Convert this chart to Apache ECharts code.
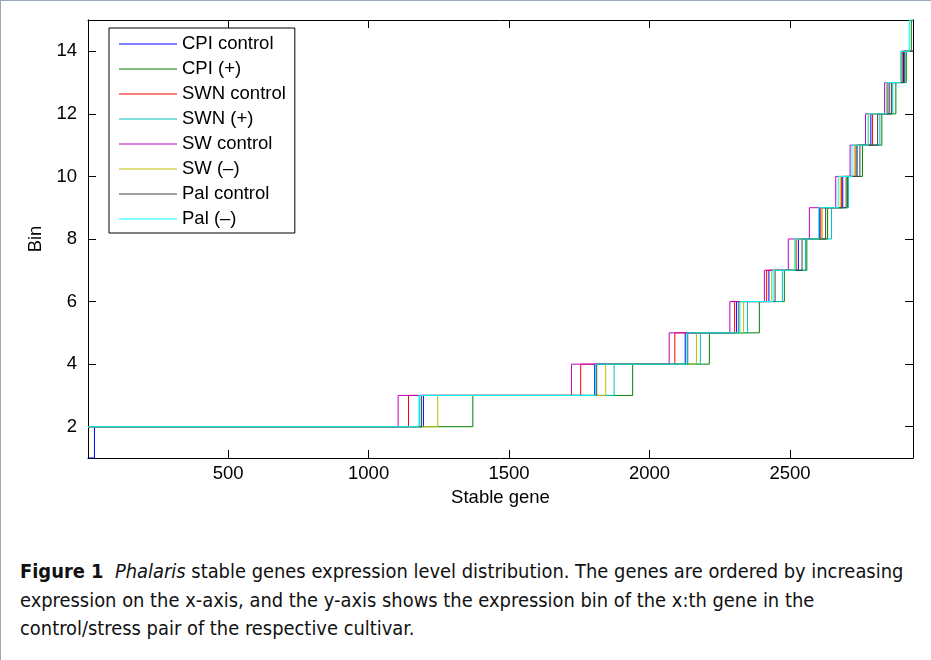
<!DOCTYPE html>
<html>
<head>
<meta charset="utf-8">
<script src="https://cdn.jsdelivr.net/npm/echarts@6/dist/echarts.min.js"></script>
<style>
  html, body { margin: 0; padding: 0; background: #fff; }
  #wrap { position: relative; width: 931px; height: 660px; overflow: hidden; }
  #frame { position: absolute; left: 0; top: 0; width: 931px; height: 660px; box-sizing: border-box;
    border-left: 1px solid #9aa6ba; border-top: 1px solid #9aa6ba; }
  #chart { position: absolute; left: 0; top: 0; width: 931px; height: 540px; }
  #caption { position: absolute; left: 20px; top: 558px; width: 910px; white-space: nowrap;
    font-family: 'DejaVu Sans Condensed', 'DejaVu Sans', sans-serif; font-size: 19.9px; line-height: 28.5px; color: #111; }
</style>
</head>
<body>
<div id="wrap">
  <div id="chart"></div>
  <div id="caption"><b>Figure 1</b>&nbsp; <i>Phalaris</i> stable genes expression level distribution. The genes are ordered by increasing<br>expression on the x-axis, and the y-axis shows the expression bin of the x:th gene in the<br>control/stress pair of the respective cultivar.</div>
  <div id="frame"></div>
</div>
<script>
// gene index range and axis ticks
const xMin = 1
const xMax = 2938
const xTicks = [500, 1000, 1500, 2000, 2500]
const yTicks = [2, 4, 6, 8, 10, 12, 14]

const seriesNames = ['CPI control', 'CPI (+)', 'SWN control', 'SWN (+)', 'SW control', 'SW (–)', 'Pal control', 'Pal (–)']
const seriesColors = ['#0000ff', '#008000', '#ff0000', '#00bfbf', '#bf00bf', '#bfbf00', '#404040', '#00ffff']

// bin each series starts in
const startBins = [1, 2, 2, 2, 2, 2, 2, 2]

// gene index where each series moves up one bin
const cpiControlSteps = [24, 1195, 1805, 2127, 2310, 2425, 2530, 2606, 2688, 2739, 2788, 2853, 2904]
const cpiPlusSteps = [1371, 1940, 2213, 2391, 2480, 2560, 2634, 2705, 2758, 2827, 2877, 2914, 2932]
const swnControlSteps = [1142, 1755, 2090, 2303, 2417, 2522, 2610, 2684, 2735, 2794, 2846, 2900]
const swnPlusSteps = [1182, 1874, 2181, 2349, 2473, 2555, 2648, 2708, 2740, 2820, 2866, 2910]
const swControlSteps = [1105, 1722, 2070, 2286, 2409, 2494, 2569, 2663, 2714, 2769, 2837, 2896]
const swMinusSteps = [1246, 1844, 2167, 2335, 2435, 2519, 2615, 2679, 2729, 2780, 2850, 2898]
const palControlSteps = [1188, 1812, 2136, 2318, 2447, 2543, 2627, 2700, 2749, 2812, 2861, 2907]
const palMinusSteps = [1179, 1808, 2133, 2322, 2440, 2517, 2602, 2672, 2721, 2778, 2843, 2894, 2925]

const allSteps = [cpiControlSteps, cpiPlusSteps, swnControlSteps, swnPlusSteps,
  swControlSteps, swMinusSteps, palControlSteps, palMinusSteps]

function buildPoints(start, steps) {
  const pts = [[xMin, start]]
  steps.forEach((x, i) => pts.push([x, start + i + 1]))
  pts.push([xMax, start + steps.length])
  return pts
}

const font = "'Liberation Sans', Arial, sans-serif"
const fs = 18.5
const chart = echarts.init(document.getElementById('chart'))

const boxAxis = {
  axisLine: { show: true, lineStyle: { color: '#000', width: 1 } },
  axisTick: { show: true, inside: true, length: 8, lineStyle: { color: '#000' } },
  axisLabel: { show: false },
  splitLine: { show: false },
}

chart.setOption({
  animation: false,
  textStyle: { fontFamily: font },
  grid: { left: 88, right: 18, top: 20, bottom: 82 },
  legend: {
    orient: 'vertical',
    left: 109,
    top: 28,
    padding: [6, 9, 4, 10],
    borderColor: '#000',
    borderWidth: 1,
    backgroundColor: '#fff',
    itemWidth: 58,
    itemHeight: 1,
    itemGap: 5,
    icon: 'rect',
    textStyle: { fontFamily: font, fontSize: fs, color: '#000', lineHeight: 20 },
    data: seriesNames,
  },
  xAxis: [
    {
      type: 'value',
      min: xMin,
      max: xMax,
      name: 'Stable gene',
      nameLocation: 'middle',
      nameGap: 30,
      nameTextStyle: { fontFamily: font, fontSize: fs, color: '#000' },
      axisLine: { show: true, lineStyle: { color: '#000', width: 1 } },
      axisTick: { show: true, inside: true, length: 8, customValues: xTicks, lineStyle: { color: '#000' } },
      axisLabel: { customValues: xTicks, formatter: v => String(v), fontFamily: font, fontSize: fs, color: '#000', margin: 6 },
      splitLine: { show: false },
    },
    Object.assign({}, boxAxis, { type: 'value', position: 'top', min: xMin, max: xMax,
      axisTick: Object.assign({}, boxAxis.axisTick, { customValues: xTicks }) }),
  ],
  yAxis: [
    {
      type: 'value',
      min: 1,
      max: 15,
      name: 'Bin',
      nameLocation: 'middle',
      nameRotate: 90,
      nameGap: 36,
      nameTextStyle: { fontFamily: font, fontSize: fs, color: '#000' },
      axisLine: { show: true, lineStyle: { color: '#000', width: 1 } },
      axisTick: { show: true, inside: true, length: 8, customValues: yTicks, lineStyle: { color: '#000' } },
      axisLabel: { customValues: yTicks, formatter: v => String(v), fontFamily: font, fontSize: fs, color: '#000', margin: 11 },
      splitLine: { show: false },
    },
    Object.assign({}, boxAxis, { type: 'value', position: 'right', min: 1, max: 15,
      axisTick: Object.assign({}, boxAxis.axisTick, { customValues: yTicks }) }),
  ],
  series: seriesNames.map((name, i) => ({
    name,
    type: 'line',
    step: 'end',
    showSymbol: false,
    symbol: 'none',
    xAxisIndex: 0,
    yAxisIndex: 0,
    color: seriesColors[i],
    lineStyle: { width: 1, color: seriesColors[i] },
    data: buildPoints(startBins[i], allSteps[i]),
  })),
})
</script>
</body>
</html>
